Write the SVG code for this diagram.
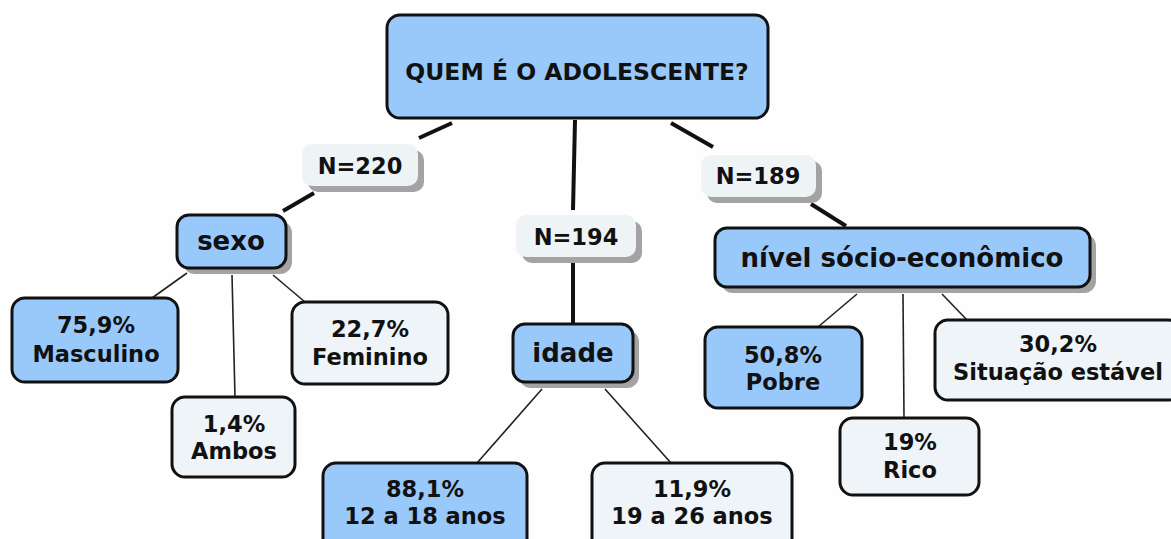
<svg xmlns="http://www.w3.org/2000/svg" width="1171" height="539" viewBox="0 0 1171 539">
<style>
text{font-family:"DejaVu Sans","Verdana",sans-serif;font-weight:bold;fill:#111;text-anchor:middle}
.blue{fill:#99c9fa;stroke:#111;stroke-width:3}
.light{fill:#eef4f7;stroke:#111;stroke-width:3}
.lbl{fill:#eef3f6}
.sh{fill:#a3a3a3}
.thick{stroke:#111;stroke-width:4;fill:none}
.thin{stroke:#222;stroke-width:1.6;fill:none}
.t22{font-size:22.5px}
.t26{font-size:26px}
</style>
<rect width="1171" height="539" fill="#fefefe"/>
<g id="connectors">
<line class="thick" x1="452" y1="123" x2="419" y2="138"/>
<line class="thick" x1="314" y1="193" x2="283" y2="211"/>
<line class="thick" x1="575" y1="120" x2="573" y2="210"/>
<line class="thick" x1="573" y1="262" x2="573" y2="323"/>
<line class="thick" x1="671" y1="123" x2="713" y2="147"/>
<line class="thick" x1="811" y1="204" x2="846" y2="226"/>
<line class="thin" x1="187" y1="273" x2="152" y2="298"/>
<line class="thin" x1="232" y1="275" x2="235" y2="397"/>
<line class="thin" x1="273" y1="275" x2="305" y2="302"/>
<line class="thin" x1="542" y1="389" x2="477" y2="463"/>
<line class="thin" x1="605" y1="389" x2="671" y2="463"/>
<line class="thin" x1="857" y1="294" x2="818" y2="327"/>
<line class="thin" x1="903" y1="294" x2="904" y2="418"/>
<line class="thin" x1="942" y1="294" x2="967" y2="320"/>
</g>
<g id="root">
<rect class="blue" x="387" y="15" width="381" height="103" rx="13"/>
<text x="577" y="80" style="font-size:23.5px">QUEM É O ADOLESCENTE?</text>
</g>
<g id="n220">
<rect class="sh" x="308" y="150" width="116" height="42" rx="10"/>
<rect class="lbl" x="302" y="144" width="116" height="42" rx="10"/>
<text class="t22" x="360" y="174">N=220</text>
</g>
<g id="n194">
<rect class="sh" x="522" y="221" width="120" height="42" rx="10"/>
<rect class="lbl" x="516" y="215" width="120" height="42" rx="10"/>
<text class="t22" x="576" y="245">N=194</text>
</g>
<g id="n189">
<rect class="sh" x="707" y="161" width="115" height="42" rx="10"/>
<rect class="lbl" x="701" y="155" width="115" height="42" rx="10"/>
<text class="t22" x="758" y="184">N=189</text>
</g>
<g id="sexo">
<rect class="sh" x="183" y="221" width="109" height="53" rx="12"/>
<rect class="blue" x="177" y="215" width="109" height="53" rx="12"/>
<text class="t26" x="231" y="250">sexo</text>
</g>
<g id="idade">
<rect class="sh" x="519" y="330" width="120" height="58" rx="12"/>
<rect class="blue" x="513" y="324" width="120" height="58" rx="12"/>
<text class="t26" x="573" y="362">idade</text>
</g>
<g id="nivel">
<rect class="sh" x="721" y="234" width="375" height="59" rx="12"/>
<rect class="blue" x="715" y="228" width="375" height="59" rx="12"/>
<text class="t26" x="902" y="267">nível sócio-econômico</text>
</g>
<g id="masculino">
<rect class="blue" x="12" y="298" width="166" height="84" rx="13"/>
<text class="t22" x="96" y="333">75,9%</text>
<text class="t22" x="96" y="362">Masculino</text>
</g>
<g id="ambos">
<rect class="light" x="172" y="397" width="123" height="80" rx="13"/>
<text class="t22" x="234" y="432">1,4%</text>
<text class="t22" x="234" y="459">Ambos</text>
</g>
<g id="feminino">
<rect class="light" x="292" y="302" width="156" height="82" rx="13"/>
<text class="t22" x="370" y="337">22,7%</text>
<text class="t22" x="370" y="365">Feminino</text>
</g>
<g id="a12a18">
<rect class="blue" x="323" y="463" width="204" height="90" rx="13"/>
<text class="t22" x="425" y="497">88,1%</text>
<text class="t22" x="425" y="524">12 a 18 anos</text>
</g>
<g id="a19a26">
<rect class="light" x="592" y="463" width="200" height="90" rx="13"/>
<text class="t22" x="692" y="497">11,9%</text>
<text class="t22" x="692" y="524">19 a 26 anos</text>
</g>
<g id="pobre">
<rect class="blue" x="705" y="327" width="157" height="81" rx="13"/>
<text class="t22" x="783" y="363">50,8%</text>
<text class="t22" x="783" y="390">Pobre</text>
</g>
<g id="rico">
<rect class="light" x="840" y="418" width="139" height="77" rx="13"/>
<text class="t22" x="910" y="450">19%</text>
<text class="t22" x="910" y="478">Rico</text>
</g>
<g id="situacao">
<rect class="light" x="935" y="320" width="246" height="80" rx="13"/>
<text class="t22" x="1058" y="352">30,2%</text>
<text class="t22" x="1058" y="380">Situação estável</text>
</g>
</svg>
